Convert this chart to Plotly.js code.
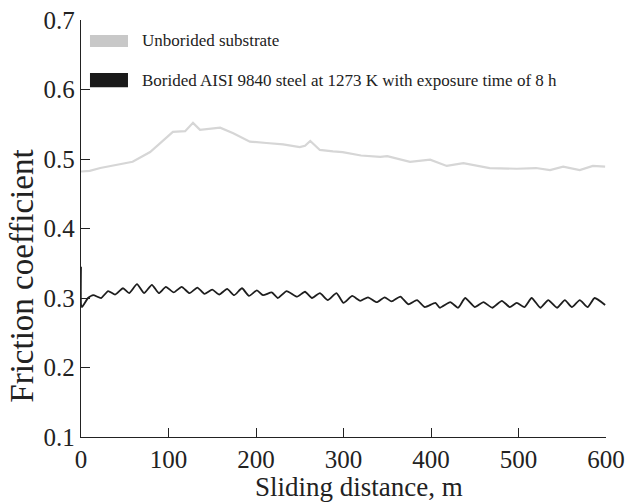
<!DOCTYPE html>
<html>
<head>
<meta charset="utf-8">
<script src="https://cdn.plot.ly/plotly-3.0.1.min.js"></script>
<style>html,body{margin:0;padding:0;background:#fff;}#chart{width:629px;height:503px;}</style>
</head>
<body>
<div id="chart"></div>
<script>
// Unborided substrate (grey)
const unboridedX = [0, 10, 22, 40, 59, 79, 95, 105, 119, 128, 136, 159, 174, 193, 212, 231, 250, 256, 262, 273, 288, 299, 320, 342, 350, 376, 399, 418, 437, 467, 498, 520, 536, 551, 570, 585, 599];
const unboridedY = [0.482, 0.483, 0.487, 0.491, 0.496, 0.510, 0.527, 0.539, 0.540, 0.552, 0.542, 0.545, 0.537, 0.525, 0.523, 0.521, 0.517, 0.519, 0.526, 0.513, 0.511, 0.510, 0.505, 0.503, 0.504, 0.496, 0.499, 0.490, 0.494, 0.487, 0.486, 0.487, 0.484, 0.489, 0.484, 0.490, 0.489];

// Borided AISI 9840 steel (black)
const boridedX = [0, 1, 8, 14, 23, 31, 39, 48, 55, 64, 72, 81, 89, 97, 106, 115, 124, 133, 141, 150, 158, 167, 175, 184, 192, 201, 208, 218, 225, 235, 247, 256, 264, 273, 282, 292, 300, 310, 319, 328, 338, 347, 355, 365, 374, 384, 393, 405, 410, 422, 431, 439, 450, 460, 470, 481, 490, 498, 507, 515, 525, 534, 544, 553, 561, 570, 579, 587, 599];
const boridedY = [0.345, 0.287, 0.300, 0.304, 0.300, 0.310, 0.305, 0.314, 0.307, 0.320, 0.307, 0.319, 0.307, 0.316, 0.308, 0.316, 0.307, 0.315, 0.306, 0.312, 0.305, 0.313, 0.304, 0.314, 0.303, 0.311, 0.304, 0.308, 0.300, 0.310, 0.302, 0.309, 0.300, 0.307, 0.297, 0.307, 0.293, 0.303, 0.296, 0.301, 0.294, 0.301, 0.295, 0.302, 0.291, 0.297, 0.287, 0.293, 0.286, 0.294, 0.286, 0.300, 0.287, 0.294, 0.286, 0.296, 0.287, 0.293, 0.287, 0.300, 0.286, 0.297, 0.286, 0.297, 0.287, 0.297, 0.287, 0.300, 0.290];

const xTickVals = [0, 100, 200, 300, 400, 500, 600];
const yTickVals = [0.1, 0.2, 0.3, 0.4, 0.5, 0.6, 0.7];
const seriesNames = ["Unborided substrate", "Borided AISI 9840 steel at 1273 K with exposure time of 8 h"];
const xTitle = "Sliding distance, m";
const yTitle = "Friction coefficient";

const fontFam = "Liberation Serif, Times New Roman, serif";
const ink = "#222";

const traces = [
  {x: unboridedX, y: unboridedY, type: "scatter", mode: "lines", name: seriesNames[0],
   line: {color: "#d6d6d6", width: 2.2}, showlegend: false},
  {x: boridedX, y: boridedY, type: "scatter", mode: "lines", name: seriesNames[1],
   line: {color: "#1e1e1e", width: 1.8, shape: "spline", smoothing: 0.5}, showlegend: false}
];

const layout = {
  width: 629, height: 503,
  margin: {l: 81, r: 23, t: 20, b: 66},
  paper_bgcolor: "#fff", plot_bgcolor: "#fff",
  font: {family: fontFam, color: ink, size: 20},
  xaxis: {
    range: [0, 600], tickvals: xTickVals, ticktext: xTickVals.map(String),
    ticks: "inside", ticklen: 9, tickwidth: 1, tickcolor: ink,
    showline: true, linecolor: ink, linewidth: 1.2, showgrid: false, zeroline: false,
    tickfont: {family: fontFam, size: 25, color: ink}
  },
  yaxis: {
    range: [0.1, 0.7], tickvals: yTickVals, ticktext: yTickVals.map(v => v.toFixed(1)),
    ticks: "inside", ticklen: 9, tickwidth: 1, tickcolor: ink,
    showline: true, linecolor: ink, linewidth: 1.2, showgrid: false, zeroline: false,
    tickfont: {family: fontFam, size: 25, color: ink}
  },
  shapes: [
    {type: "rect", xref: "paper", yref: "paper", x0: 0.0171, x1: 0.0895, y0: 0.935, y1: 0.964,
     fillcolor: "#c8c8c8", line: {width: 0}},
    {type: "rect", xref: "paper", yref: "paper", x0: 0.0171, x1: 0.0895, y0: 0.839, y1: 0.873,
     fillcolor: "#1a1a1a", line: {width: 0}}
  ],
  annotations: [
    {xref: "paper", yref: "paper", x: 0.112, y: 0.950, xanchor: "left", yanchor: "middle", showarrow: false,
     text: seriesNames[0], font: {family: fontFam, size: 17, color: ink}},
    {xref: "paper", yref: "paper", x: 0.112, y: 0.856, xanchor: "left", yanchor: "middle", showarrow: false,
     text: seriesNames[1], font: {family: fontFam, size: 17, color: ink}},
    {xref: "paper", yref: "paper", x: 0.53, y: -0.12, xanchor: "center", yanchor: "middle", showarrow: false,
     text: xTitle, font: {family: fontFam, size: 27, color: ink}},
    {xref: "paper", yref: "paper", x: -0.112, y: 0.385, xanchor: "center", yanchor: "middle", showarrow: false,
     textangle: -90, text: yTitle, font: {family: fontFam, size: 33, color: ink}}
  ],
  showlegend: false
};

Plotly.newPlot("chart", traces, layout, {displayModeBar: false, staticPlot: true});
</script>
</body>
</html>
